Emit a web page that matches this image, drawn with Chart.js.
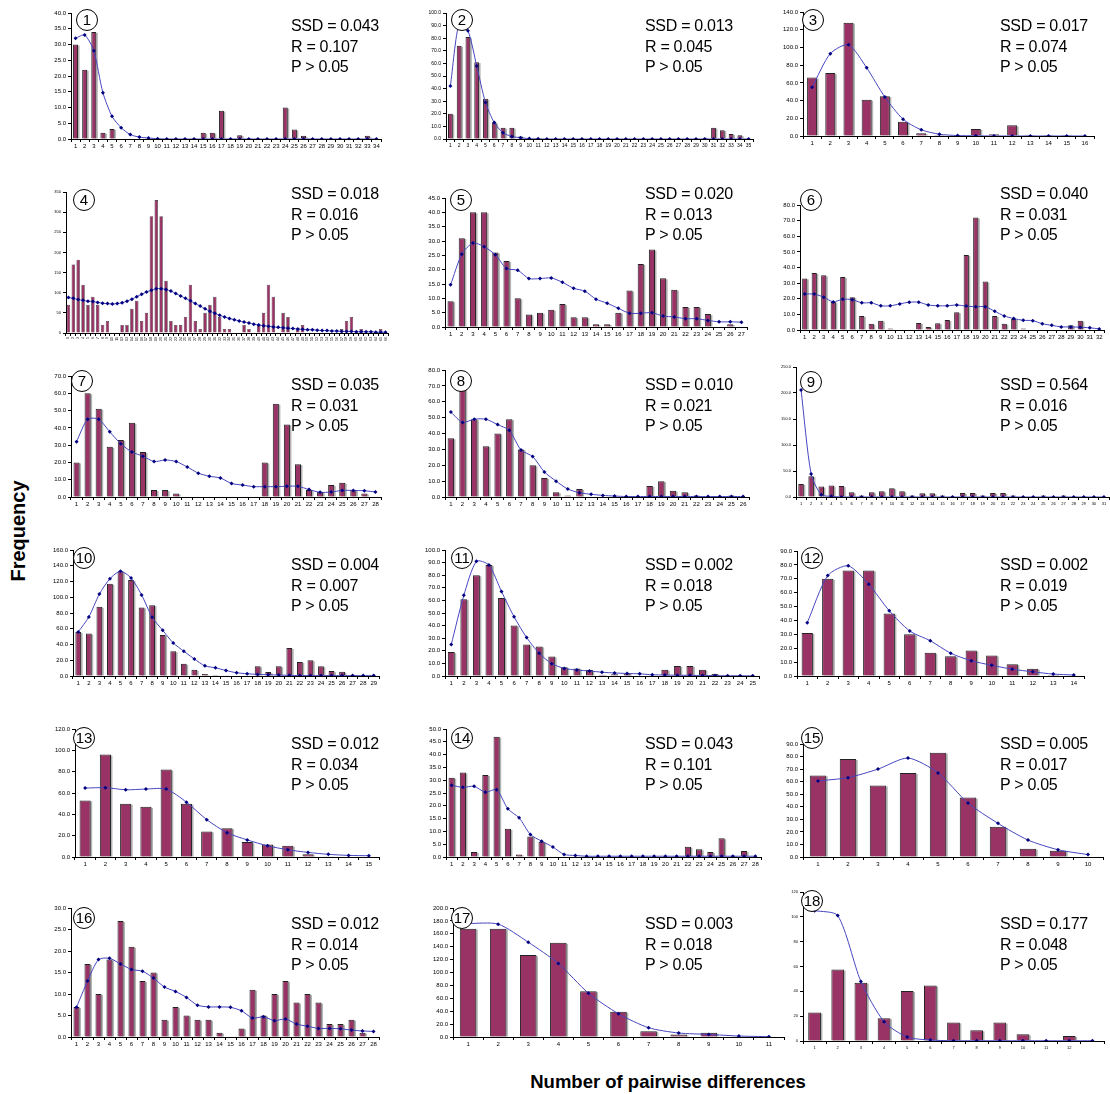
<!DOCTYPE html>
<html>
<head>
<meta charset="utf-8">
<script src="https://cdn.jsdelivr.net/npm/chart.js@4.4.0/dist/chart.umd.min.js"></script>
<style>
  html, body { margin: 0; padding: 0; background: #fff; }
  #fig { position: relative; width: 1110px; height: 1094px; overflow: hidden;
         font-family: "Liberation Sans", Arial, sans-serif; color: #000; }
  #fig canvas { position: absolute; }
  .stats { position: absolute; font-size: 16px; line-height: 20.5px; white-space: nowrap; letter-spacing: -0.3px; }
  .num { position: absolute; width: 20px; height: 20px; border: 1.3px solid #000; border-radius: 50%;
         background: #fff; font-size: 15px; line-height: 20px; text-align: center; transform: translate(-50%, -50%); }
  .ytitle { position: absolute; left: 18px; top: 531px; transform: translate(-50%, -50%) rotate(-90deg);
            font-weight: bold; font-size: 20px; white-space: nowrap; }
  .xtitle { position: absolute; left: 668px; top: 1082px; transform: translate(-50%, -50%);
            font-weight: bold; font-size: 18.5px; white-space: nowrap; }
</style>
</head>
<body>
<div id="fig">
  <div class="ytitle">Frequency</div>
  <div class="xtitle">Number of pairwise differences</div>
</div>
<script>
// ─── Datos: observado (barras) y esperado (línea) ─────────────
const obs1 = [30,22,34,2,3.2,0,0,0,0,0,0,0,0,0,2,2,9,0,1.2,0,0,0,0,10,3,1,0,0,0,0,0,0,1,0];
const exp1 = [32,33,28,14.7,7.2,3.6,1.4,0.6,0.3,0.1,0,0,0,0,0,0,0,0,0,0,0,0,0,0,0,0,0,0,0,0,0,0,0,0];

const obs2 = [20,74,81,61,32,13,9,9,2,0,0,0,0,0,0,0,0,0,0,0,0,0,0,0,0,0,0,0,0,1,9,7,4,3,0];
const exp2 = [42,92,86,58,29,13,5,2,1,0.3,0.1,0,0,0,0,0,0,0,0,0,0,0,0,0,0,0,0,0,0,0,0,0,0,0,0];

const obs3 = [66,71,128,41,45,16,3,1,0,8,2,12,1,1,1,0];
const exp3 = [55,93,103,77,44,19,7,2,0.5,0.2,0,0,0,0,0,0];

const obs4 = [70,170,182,120,70,90,70,20,30,0,0,20,20,60,80,30,50,290,330,290,
              130,30,20,20,40,120,30,10,50,70,90,40,10,10,0,0,20,10,0,20,
              50,120,90,0,50,40,0,10,20,0,0,0,0,0,0,0,10,30,40,0,10,0,0,0,10,0];
const exp4 = [88,86,83,81,79,78,76,74,73,72,73,75,79,84,90,96,102,106,110,110,
              108,104,98,92,86,80,73,67,60,54,49,44,40,36,33,30,27,25,22,20,
              18,17,15,14,13,12,11,10,9,8,8,7,6,6,5,5,4,4,4,3,3,3,3,2,2,2];

const obs5 = [9,31,40,40,26,23,10,4.4,5,6,8,3.4,3.4,1,1,5,12.7,22,27,17,13,7,7,4.5,0,1,0];
const exp5 = [14.7,25.4,29.3,28,25.2,20.4,19.8,16.9,16.9,17.1,15.6,13.5,12.5,9.7,8.3,6.5,4.8,4.8,5,3.8,3.5,2.9,2.9,2.3,1.8,1.8,1.7];

const obs6 = [33,36.5,35,18,34,21,9,4,6,1,0,0,4.5,2,4.3,6.4,11.4,48,72,31,9,4,7,1,0,0,0,0,3,6,0,0];
const exp6 = [23,23,21,18,19.7,19.4,17.4,17.4,15.5,15.5,16.7,17.8,17.8,16,15.5,15.5,16,15.3,14.9,14.9,12,9,7.3,6.2,6,4,3,2,2,1.8,1.4,0.7];

const obs7 = [20,60,51,29,33,43,26,4,4,2,0,0,0,0,0,0,0,20,54,42,19,4,3,7,8.3,4,2,0];
const exp7 = [32,45,45,37.7,30.8,26,23.6,20.5,21.4,20.5,17.4,13.8,12,11,7.8,6.9,6,6,6,6.2,6.2,4.3,2.7,2.9,3.8,3.8,3.6,2.9];

const obs8 = [37,68,49,32,40,49,30,20,12,3,1,5,0,0,0,0,0,7,10,4,3,1,0,0,1,0];
const exp8 = [53.5,47,49,49,45.6,42,29.6,25.5,15.8,10,5,2.7,1.7,1,0.6,0.3,0.3,0.3,0.3,0.3,0.3,0.3,0.3,0.3,0.3,0.3];

const obs9 = [25,40,20,22,21,9,3,9,11,17,11,3,7,7,3,1,7.5,7.5,3,7.5,7.5,3,0,1,3,0,3,1,0,1,0];
const exp9 = [206,44,4.4,1.3,0,0,0,0,0,0,0,0,0,0,0,0,0,0,0,0,0,0,0,0,0,0,0,0,0,0,0];

const obs10 = [56,54,88,117,133,122,87,90,52,31.5,15.4,8,2.5,1.2,1,0,0,12.4,5,12.4,35.7,17.8,20,12.4,6.2,5.4,0,0,0];
const exp10 = [56,75,104,123.6,133,124.5,103,74.7,58,42,31.5,21.6,12.9,10.4,7,4.1,2.9,2,1.6,1.2,0.8,0.5,0.5,0.5,0.5,0.5,0.5,0.5,0.5];

const obs11 = [19,61,80,88,62,40,25,23.5,15.5,7,6,4.7,1,1.3,2,0,0,5,8,8,5,1.5,0,0,0];
const exp11 = [25,64,91,88,67,47,30.5,18,9.8,6,4.7,4,3,2.4,2,1.7,1,0.8,0.6,0.5,0.4,0.3,0.2,0.2,0.1];

const obs12 = [31,70,76,76,45,30,16.7,14.3,18.3,14.8,8.5,5.2,0.7,0];
const exp12 = [38.3,72.3,79.3,66,47,32.4,25.4,16.4,11,7.7,4.9,3,1.4,0.7];

const obs13 = [53,96,50,47,82,50,24,27,14,11.7,10.5,2.5,0.7,0,0];
const exp13 = [64.6,65,63,63.7,63.7,51.4,35,22.8,16,10.5,6.8,4.3,2.5,1.5,1.2];

const obs14 = [31,33,2,32,47,11,1,8,6,0,0,0,0,0,0,0,0,0,0,0,0,4,3,2,7.3,0.5,2.3,0];
const exp14 = [28,27.2,27.6,25.3,26.3,18.8,15.3,8.8,6.2,3.9,1,0.6,0.3,0.3,0.3,0.3,0.3,0.3,0.3,0.3,0.3,0.3,0.3,0.3,0.3,0.3,0.3,0.3];

const obs15 = [65,78,57,67,83,47.3,24,6.5,5,0];
const exp15 = [60.6,63.2,70,78.8,67,43,26.8,13.5,5.8,1.9];

const obs16 = [7,17,10,18,27,21,13,15,4,7,5,4,4,1,0,2,11,5,10,13,8,10,8,3,3,4,1,0];
const exp16 = [6.9,13,18,18.3,17,15.7,15.3,13.7,11.6,10.6,9.2,7.4,7,7,6.9,6.1,4.4,4.7,3.8,4.2,3,2.5,2,2,1.9,1.6,1.4,1.3];

const obs17 = [168,168,127,146,71,39,9,4,6.5,0.5,0];
const exp17 = [176,175,147,114,68,36,14.4,6.2,4,1.5,0.5];

const obs18 = [23,57.5,47,18.3,40.3,44.6,15,8.6,14.8,5.4,0,4,0];
const exp18 = [105,101,48,15.6,3.2,0.8,0.2,0.2,0.2,0.2,0.2,0.2,0.2];
const labels18 = ["1","2","3","4","5","6","7","8","9","10","11","12",""];

// Estadísticos de cada panel
const ssdVals = ["0.043","0.013","0.017","0.018","0.020","0.040","0.035","0.010","0.564",
                 "0.004","0.002","0.002","0.012","0.043","0.005","0.012","0.003","0.177"];
const rVals   = ["0.107","0.045","0.074","0.016","0.013","0.031","0.031","0.021","0.016",
                 "0.007","0.018","0.019","0.034","0.101","0.017","0.014","0.018","0.048"];
const pText = "P > 0.05";

// Eje Y: máximo, paso y decimales
const yMaxs  = [40,100,140,350,45,80,70,80,250,160,100,90,120,50,90,30,200,120];
const ySteps = [5,10,20,50,5,10,10,10,50,20,10,10,20,5,10,5,20,20];
const yDec   = [1,1,1,0,1,1,1,1,1,1,1,1,1,1,1,1,1,0];

const observed = [obs1,obs2,obs3,obs4,obs5,obs6,obs7,obs8,obs9,obs10,obs11,obs12,obs13,obs14,obs15,obs16,obs17,obs18];
const expected = [exp1,exp2,exp3,exp4,exp5,exp6,exp7,exp8,exp9,exp10,exp11,exp12,exp13,exp14,exp15,exp16,exp17,exp18];

// ─── Layout (px): eje izq., borde der., y del máximo, y del cero ──
const BOX = [
  [71, 382, 13, 139], [446, 754, 13, 139], [803, 1095, 12, 136],
  [66, 389, 192, 333], [445, 748, 198, 327], [800, 1105, 205, 330],
  [71, 382, 376, 497], [445, 750, 370, 497], [796, 1110, 367, 497],
  [73, 380, 550, 676], [445, 760, 550, 676], [797, 1085, 551, 676],
  [75, 380, 729, 857], [446, 762, 729, 857], [803, 1104, 744, 857],
  [71, 380, 908, 1037], [453, 785, 908, 1037], [803, 1105, 892, 1041]
];
const STATS_X = [291, 645, 1000];
const STATS_Y = [26, 194, 385, 565, 744, 924];
const CIRCLES = [
  [87,20],[462,20],[813,20],[84,200],[461,200],[811,200],
  [82,381],[461,381],[811,382],[84,558],[462,558],[812,558],
  [84,738],[462,738],[812,738],[84,918],[462,918],[812,901]
];
const xFont = [6,5,6,3.5,6,6,6,6,4,6,6,6,6,6,6,6,6,4];
const yFont = [6,5,6,4,6,6,6,6,4,6,6,6,6,6,6,6,6,4];

Chart.defaults.font.family = '"Liberation Sans", Arial, sans-serif';
Chart.defaults.color = "#000";

// Sombra gris suave a la derecha de cada barra (estilo Excel)
const barShadow = {
  id: "barShadow",
  beforeDatasetDraw(chart, args) {
    if (args.meta.type !== "bar") return;
    const ctx = chart.ctx;
    ctx.save();
    ctx.fillStyle = "#b4b4b4";
    args.meta.data.forEach(b => {
      const h = b.base - b.y;
      if (h <= 0.5 || b.width < 4) return;
      ctx.fillRect(b.x - b.width / 2 + 1.5, b.y + 1, b.width, h - 1);
    });
    ctx.restore();
  }
};

const fig = document.getElementById("fig");
const PAD_TOP = 6, PAD_RIGHT = 3, Y_W = 30, X_H = 14;

function makePanel(i) {
  const [ax, right, top, base] = BOX[i];
  const cv = document.createElement("canvas");
  cv.width  = right - ax + Y_W + PAD_RIGHT;
  cv.height = base - top + PAD_TOP + X_H;
  cv.style.left = (ax - Y_W) + "px";
  cv.style.top  = (top - PAD_TOP) + "px";
  fig.appendChild(cv);

  const obs = observed[i];
  const labels = i === 17 ? labels18 : obs.map((_, k) => String(k + 1));
  const dense = i === 3;
  const rot = dense ? 90 : 0;

  new Chart(cv, {
    type: "bar",
    data: {
      labels,
      datasets: [
        { type: "line", data: expected[i], order: 0,
          borderColor: "#4646c0", borderWidth: 1, tension: 0.25,
          pointStyle: "rectRot", pointRadius: 2, pointBorderWidth: 0,
          pointBackgroundColor: "#000080" },
        { type: "bar", data: obs, order: 1,
          backgroundColor: "#993366", borderColor: "#222", borderWidth: dense ? 0.6 : 1,
          barPercentage: dense ? 0.7 : 0.55, categoryPercentage: 1 }
      ]
    },
    options: {
      responsive: false, animation: false, devicePixelRatio: 1,
      layout: { padding: { top: PAD_TOP, right: PAD_RIGHT, left: 0, bottom: 0 } },
      plugins: { legend: { display: false }, tooltip: { enabled: false } },
      scales: {
        x: {
          grid: { drawOnChartArea: false, color: "#000", tickLength: 3 },
          border: { color: "#000" },
          ticks: { font: { size: xFont[i] }, autoSkip: false, maxRotation: rot, minRotation: rot, padding: 1 },
          afterFit: s => { s.height = X_H; }
        },
        y: {
          min: 0, max: yMaxs[i],
          grid: { drawOnChartArea: false, color: "#000", tickLength: 3 },
          border: { color: "#000" },
          ticks: { stepSize: ySteps[i], autoSkip: false, font: { size: yFont[i] }, padding: 2,
                   callback: v => Number(v).toFixed(yDec[i]) },
          afterFit: s => { s.width = Y_W; }
        }
      }
    },
    plugins: [barShadow]
  });

  // Texto de estadísticos
  const st = document.createElement("div");
  st.className = "stats";
  st.style.left = STATS_X[i % 3] + "px";
  st.style.top  = (STATS_Y[Math.floor(i / 3)] - 10) + "px";
  st.innerHTML = "SSD = " + ssdVals[i] + "<br>R = " + rVals[i] + "<br>" + pText.replace(">", "&gt;");
  fig.appendChild(st);

  // Número en círculo
  const c = document.createElement("div");
  c.className = "num";
  c.style.left = CIRCLES[i][0] + "px";
  c.style.top  = CIRCLES[i][1] + "px";
  c.textContent = String(i + 1);
  fig.appendChild(c);
}

for (let i = 0; i < 18; i++) makePanel(i);
</script>
</body>
</html>
